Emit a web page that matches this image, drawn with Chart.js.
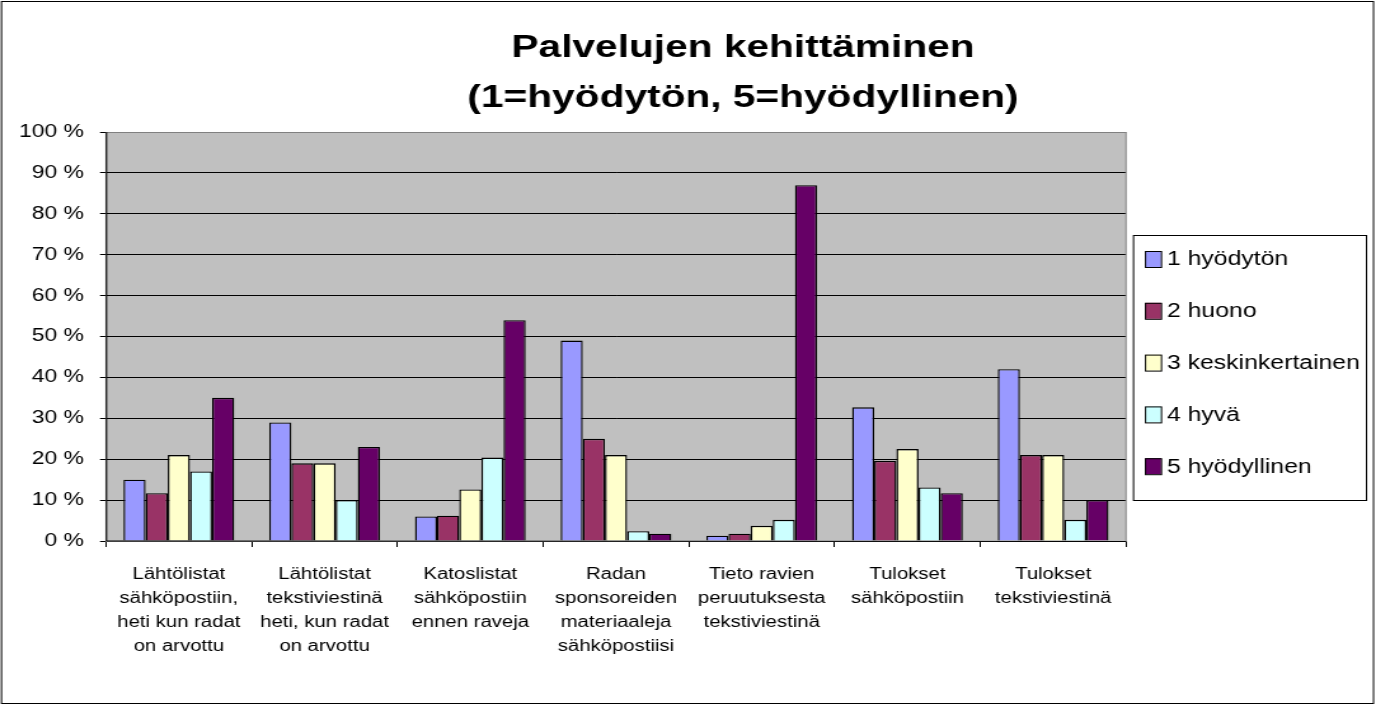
<!DOCTYPE html>
<html>
<head>
<meta charset="utf-8">
<script src="https://cdn.jsdelivr.net/npm/chart.js@4.4.1/dist/chart.umd.min.js"></script>
<style>
  body { margin: 0; background: #fff; }
  #myChart { display: block; }
</style>
</head>
<body>
<!-- drawn narrow and stretched to 1376px, like the wide-font original -->
<canvas id="myChart" width="1083" height="706" style="width:1376px;height:706px"></canvas>
<script>
const categories = [
  ['Lähtölistat', 'sähköpostiin,', 'heti kun radat', 'on arvottu'],
  ['Lähtölistat', 'tekstiviestinä', 'heti, kun radat', 'on arvottu'],
  ['Katoslistat', 'sähköpostiin', 'ennen raveja'],
  ['Radan', 'sponsoreiden', 'materiaaleja', 'sähköpostiisi'],
  ['Tieto ravien', 'peruutuksesta', 'tekstiviestinä'],
  ['Tulokset', 'sähköpostiin'],
  ['Tulokset', 'tekstiviestinä']
];
const seriesNames = ['1 hyödytön', '2 huono', '3 keskinkertainen', '4 hyvä', '5 hyödyllinen'];
const hyodyton = [15, 29, 6, 49, 1.3, 32.7, 42];
const huono = [11.7, 19, 6.2, 25, 1.8, 19.6, 21];
const keskinkertainen = [21, 19, 12.6, 21, 3.7, 22.5, 21];
const hyva = [17, 10, 20.4, 2.4, 5.2, 13.1, 5.2];
const hyodyllinen = [35, 23, 54, 1.8, 87, 11.7, 10];
const colors = ['#9999FF', '#993366', '#FFFFCC', '#CCFFFF', '#660066'];
const titleLines = ['Palvelujen kehittäminen', '(1=hyödytön, 5=hyödyllinen)'];

const FONT = '"Liberation Sans", Arial, sans-serif';
const S = 1376 / 1083; // horizontal stretch
const sx = x => x / S;

const extras = {
  id: 'extras',
  beforeDraw(chart) {
    const ctx = chart.ctx;
    const a = chart.chartArea;
    ctx.save();
    ctx.fillStyle = '#fff';
    ctx.fillRect(0, 0, chart.width, chart.height);
    ctx.fillStyle = '#C0C0C0';
    ctx.fillRect(a.left, a.top, a.right - a.left, a.bottom - a.top);
    ctx.restore();
  },
  afterDraw(chart) {
    const ctx = chart.ctx;
    const a = chart.chartArea;
    ctx.save();
    ctx.lineWidth = 1;
    ctx.strokeStyle = '#808080';
    ctx.strokeRect(a.left, a.top + 0.5, a.right - a.left, a.bottom - a.top);
    ctx.strokeStyle = '#000';
    ctx.beginPath();
    ctx.moveTo(a.left + 0.4, a.top);
    ctx.lineTo(a.left + 0.4, a.bottom);
    ctx.lineTo(a.right, a.bottom + 0.5);
    ctx.stroke();
    // outer border
    ctx.strokeRect(sx(1.5), 1.5, sx(1372), chart.height - 4);
    // title
    ctx.fillStyle = '#000';
    ctx.font = 'bold 32px ' + FONT;
    ctx.textAlign = 'center';
    ctx.textBaseline = 'middle';
    ctx.fillText(titleLines[0], sx(743), 48);
    ctx.fillText(titleLines[1], sx(743), 98);
    // legend
    ctx.strokeRect(sx(1133.5), 235.5, sx(233), 265);
    ctx.font = '19.5px ' + FONT;
    ctx.textAlign = 'left';
    chart.data.datasets.forEach((ds, i) => {
      const cy = 259 + i * 51.8;
      ctx.fillStyle = ds.backgroundColor;
      ctx.fillRect(sx(1145), cy - 8, sx(16), 16);
      ctx.strokeRect(sx(1145.5), cy - 7.5, sx(16), 16);
      ctx.fillStyle = '#000';
      ctx.fillText(ds.label, sx(1167), cy + 1);
    });
    ctx.restore();
  }
};

const allValues = [hyodyton, huono, keskinkertainen, hyva, hyodyllinen];

new Chart(document.getElementById('myChart'), {
  type: 'bar',
  data: {
    labels: categories,
    datasets: allValues.map((vals, i) => ({
      label: seriesNames[i],
      data: vals,
      backgroundColor: colors[i],
      borderColor: '#000',
      borderWidth: 1.4,
      barPercentage: 1,
      categoryPercentage: 0.76
    }))
  },
  options: {
    responsive: false,
    animation: false,
    layout: { padding: { left: 0, top: 132, right: 1083 - sx(1126), bottom: 0 } },
    plugins: {
      legend: { display: false },
      title: { display: false },
      tooltip: { enabled: false }
    },
    scales: {
      x: {
        afterFit(scale) { scale.height = 165; },
        grid: {
          offset: true,
          drawOnChartArea: false,
          tickLength: 6,
          color: '#000'
        },
        border: { color: '#000' },
        ticks: {
          color: '#000',
          font: { family: FONT, size: 16, lineHeight: 1.5 },
          padding: 16,
          maxRotation: 0,
          autoSkip: false
        }
      },
      y: {
        min: 0,
        max: 100,
        afterFit(scale) { scale.width = sx(106); },
        grid: { color: '#000', tickLength: sx(6) },
        border: { color: '#000' },
        ticks: {
          stepSize: 10,
          color: '#000',
          padding: sx(106) - sx(6) - sx(84),
          font: { family: FONT, size: 18 },
          callback: v => v + ' %'
        }
      }
    }
  },
  plugins: [extras]
});
</script>
</body>
</html>
